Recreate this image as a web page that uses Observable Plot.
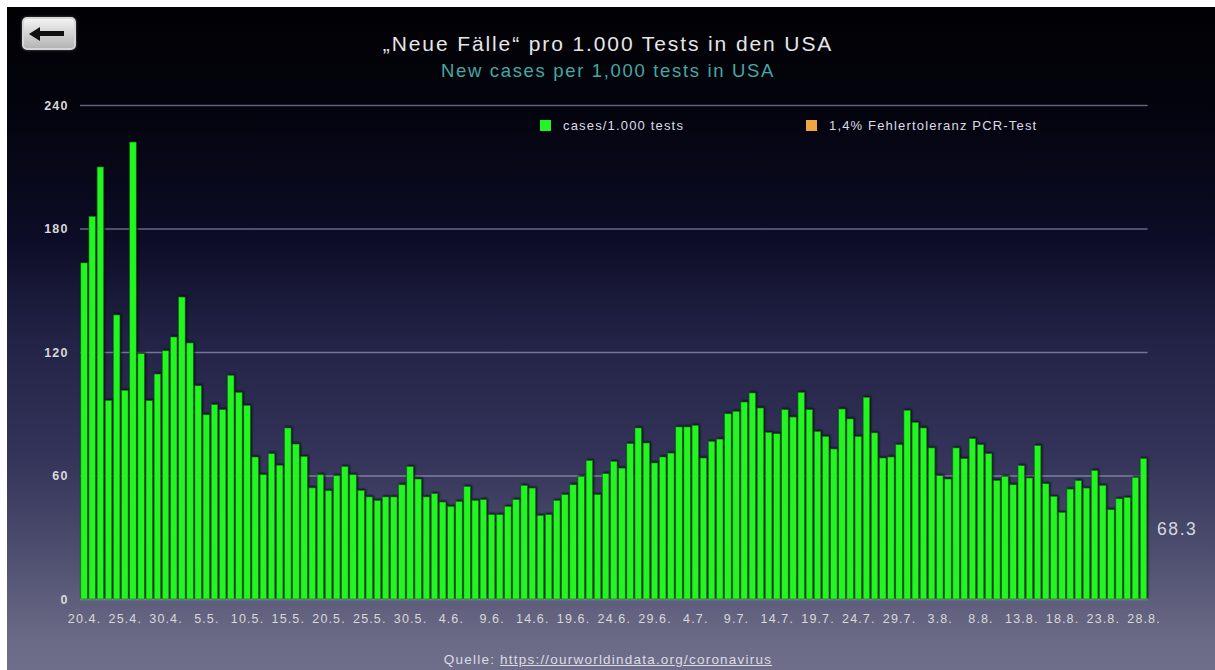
<!DOCTYPE html>
<html>
<head>
<meta charset="utf-8">
<script src="https://cdn.jsdelivr.net/npm/d3@7"></script>
<script src="https://cdn.jsdelivr.net/npm/@observablehq/plot@0.6"></script>
<style>
  html, body { margin: 0; padding: 0; background: #fff; width: 1215px; height: 670px; overflow: hidden;
    font-family: "Liberation Sans", Arial, Helvetica, sans-serif; }
  #bg { position: absolute; left: 7px; top: 7px; width: 1208px; height: 663px;
    background: linear-gradient(to bottom, #010104 0px, #03030c 90px, #0c0c26 230px, #222246 330px,
      #34345a 450px, #4c4c6e 540px, #6a6a86 630px, #6e6e8a 663px); }
  .t { position: absolute; left: 0; width: 1216px; text-align: center; white-space: nowrap; letter-spacing: 0.09em; }
  #title { top: 33px; font-size: 21px; line-height: 21px; color: #e6e6e6; }
  #subtitle { top: 62px; font-size: 18.5px; line-height: 18.5px; color: #45a8a4; }
  #caption { top: 653px; font-size: 13.5px; line-height: 13.5px; color: #dcdce4; }
  #caption a { color: #dcdce4; text-decoration: underline; }
  #chart { position: absolute; left: 7px; top: 95px; }
  #chart svg text { letter-spacing: 0.09em; }
  .lg { position: absolute; top: 119px; font-size: 13px; line-height: 13px; color: #dcdce4; letter-spacing: 0.09em; white-space: nowrap; }
  .sw { position: absolute; top: 120px; width: 11px; height: 11px; }
  #back { position: absolute; left: 22px; top: 17px; width: 50px; height: 29px; border-radius: 5px;
    background: linear-gradient(to bottom, #f2f2f2, #b4b4b4); border: 2px solid #d6d6d6;
    box-shadow: 0 0 3px rgba(255,255,255,0.35); }
  #back .shaft { position: absolute; left: 14px; top: 12px; width: 26px; height: 5px; background: #111; }
  #back .head { position: absolute; left: 5px; top: 8px; width: 0; height: 0;
    border-top: 7px solid transparent; border-bottom: 7px solid transparent; border-right: 11px solid #111; }
</style>
</head>
<body>
<div id="bg"></div>
<div id="back"><div class="head"></div><div class="shaft"></div></div>
<div class="t" id="title">„Neue Fälle“ pro 1.000 Tests in den USA</div>
<div class="t" id="subtitle">New cases per 1,000 tests in USA</div>
<div class="sw" style="left:540px;background:#22f522"></div>
<div class="lg" style="left:563px">cases/1.000 tests</div>
<div class="sw" style="left:806px;background:#f0a640"></div>
<div class="lg" style="left:829px">1,4% Fehlertoleranz PCR-Test</div>
<div id="chart"></div>
<div class="t" id="caption">Quelle: <a>https://ourworldindata.org/coronavirus</a></div>
<script>
// ---- data ----
const startDate = new Date(Date.UTC(2020, 3, 20));   // 20.4.
const endDate = new Date(Date.UTC(2020, 7, 29));     // day after 28.8.
const casesPer1000Tests = [
  163.3, 185.9, 209.9, 96.5, 138.0, 101.4, 222.0, 119.2, 96.4, 109.3,
  120.6, 127.3, 146.7, 124.4, 103.6, 89.5, 94.4, 92.0, 108.7, 100.4,
  94.1, 69.0, 60.4, 70.6, 65.0, 83.1, 75.3, 69.3, 54.0, 60.4,
  52.6, 59.9, 64.4, 60.4, 52.8, 49.6, 47.9, 49.6, 49.6, 55.5,
  64.4, 58.3, 49.6, 51.2, 47.1, 45.0, 47.4, 54.7, 47.9, 48.3,
  41.0, 41.0, 45.0, 48.3, 55.2, 53.9, 40.6, 41.0, 47.9, 50.7,
  55.5, 59.6, 67.3, 50.7, 60.9, 66.9, 63.6, 75.5, 83.1, 75.8,
  66.1, 69.0, 70.9, 83.6, 83.6, 84.4, 68.5, 76.6, 77.7, 90.0,
  91.2, 95.7, 100.1, 92.8, 81.0, 80.3, 92.0, 88.4, 100.4, 92.0,
  81.4, 79.0, 72.9, 92.3, 87.5, 79.0, 98.0, 80.7, 68.5, 69.0,
  75.0, 91.7, 85.8, 83.1, 73.4, 59.9, 58.3, 73.4, 68.2, 77.9,
  75.0, 70.6, 57.6, 59.6, 55.5, 64.8, 58.8, 74.5, 56.0, 49.9,
  42.1, 53.4, 57.5, 53.9, 62.5, 55.2, 43.4, 48.7, 49.4, 59.1,
  68.3
];
const errorThreshold = 14; // 1,4% of 1.000 tests
const yTicks = [0, 60, 120, 180, 240];
const tickLabels = ["20.4.", "25.4.", "30.4.", "5.5.", "10.5.", "15.5.", "20.5.", "25.5.", "30.5.",
  "4.6.", "9.6.", "14.6.", "19.6.", "24.6.", "29.6.", "4.7.", "9.7.", "14.7.", "19.7.", "24.7.",
  "29.7.", "3.8.", "8.8.", "13.8.", "18.8.", "23.8.", "28.8."];

const fmtDay = d3.utcFormat("%-d.%-m.");
const dayLabels = d3.utcDay.range(startDate, endDate).map(fmtDay);
const data = dayLabels.map((day, i) => ({day, value: casesPer1000Tests[i]}));
const last = data[data.length - 1];

const chart = Plot.plot({
  width: 1208,
  height: 545,
  marginLeft: 73,
  marginRight: 67.4,
  marginTop: 10,
  marginBottom: 41,
  style: {background: "transparent", color: "#d8d8d8", fontFamily: "Liberation Sans, Arial, sans-serif", overflow: "visible"},
  x: {type: "band", domain: dayLabels, paddingInner: 0.2, paddingOuter: 0.1, round: false, axis: null, label: null},
  y: {domain: [0, 240], axis: null, label: null},
  marks: [
    Plot.ruleY(yTicks, {stroke: "#c4c4e4", strokeOpacity: 0.5, strokeWidth: 1.6}),
    Plot.barY([errorThreshold], {y: d => d, fill: "#f5a030", fillOpacity: 0.07}),
    Plot.barY(data, {x: "day", y: "value", fill: "#22f522", stroke: "#0c7a0c", strokeWidth: 0.6}),
    Plot.axisY({ticks: yTicks, tickSize: 0, tickPadding: 12, fontSize: 12.5, fontWeight: "bold", fill: "#d8d8d8", label: null}),
    Plot.axisX({ticks: tickLabels, tickSize: 0, tickPadding: 14.5, fontSize: 12.5, fill: "#d8d8d8", label: null}),
    Plot.text([last], {x: "day", y: d => d.value / 2, text: d => d3.format(".1f")(d.value),
      textAnchor: "start", dx: 13, fontSize: 17.5, fill: "#d8d8dc"})
  ]
});
const barGroups = chart.querySelectorAll('g[aria-label="bar"]');
if (barGroups.length) barGroups[barGroups.length - 1].style.filter = "drop-shadow(1.5px -1px 1.2px rgba(0,0,0,0.85))";
document.getElementById("chart").appendChild(chart);
</script>
</body>
</html>
